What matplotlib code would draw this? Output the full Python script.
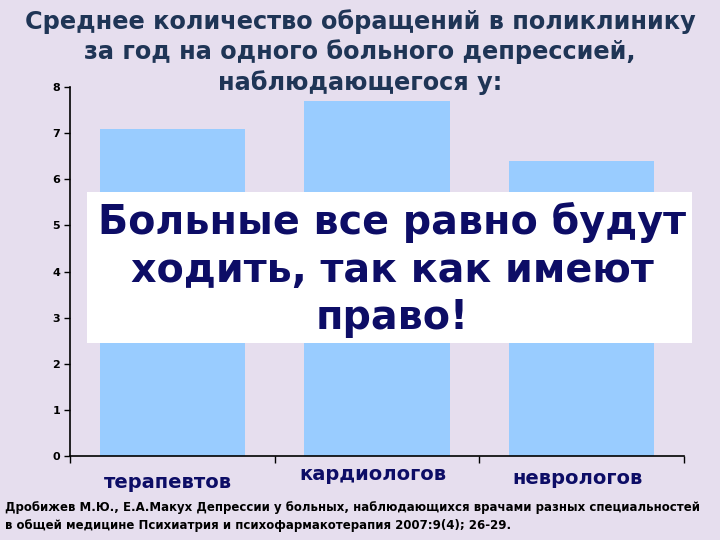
import matplotlib.pyplot as plt
import matplotlib.transforms as mtransforms
from matplotlib.patches import Rectangle

plt.rcParams['font.family'] = ['DejaVu Sans']

# данные
categories = ['терапевтов', 'кардиологов', 'неврологов']
values = [7.1, 7.7, 6.4]
label_offsets = [26, 18, 22]  # px below the axis, as in the slide

bg = '#e6deee'
bar_color = '#99ccff'
title_color = '#1f3556'
navy = '#0d0d66'

fig = plt.figure(figsize=(7.2, 5.4), dpi=100, facecolor=bg)
ax = fig.add_axes([70 / 720, 1 - 456 / 540, 614 / 720, 369 / 540])
ax.set_facecolor(bg)

x = range(len(categories))
ax.bar(x, values, width=0.71, color=bar_color, zorder=2)

ax.set_xlim(-0.5, 2.5)
ax.set_ylim(0, 8)
ax.set_yticks(range(0, 9))
ax.tick_params(axis='y', labelsize=8, length=4, width=1, pad=3)
for lab in ax.get_yticklabels():
    lab.set_fontweight('bold')
ax.set_xticks([-0.5, 0.5, 1.5, 2.5])
ax.set_xticklabels([])
ax.tick_params(axis='x', length=5, width=1, direction='out')
for side in ['top', 'right']:
    ax.spines[side].set_visible(False)
for side in ['left', 'bottom']:
    ax.spines[side].set_linewidth(1.2)

trans = mtransforms.blended_transform_factory(ax.transData, ax.transAxes)
for i, (cat, off) in enumerate(zip(categories, label_offsets)):
    t = mtransforms.offset_copy(trans, fig=fig, x=-4 * 72 / 100, y=-off * 72 / 100, units='points')
    ax.text(i, 0, cat, transform=t, ha='center', va='center',
            fontsize=14, fontweight='bold', color=navy)

# заголовок
title = ['Среднее количество обращений в поликлинику',
         'за год на одного больного депрессией,',
         'наблюдающегося у:']
for line, yy in zip(title, [22, 52, 83]):
    fig.text(0.5, 1 - yy / 540, line, ha='center', va='center',
             fontsize=17.3, fontweight='bold', color=title_color)

# белая вставка
fig.patches.append(Rectangle((87 / 720, 1 - 343 / 540), 605 / 720, 151 / 540,
                             transform=fig.transFigure, facecolor='white',
                             edgecolor='none', zorder=3))
box_lines = ['Больные все равно будут', 'ходить, так как имеют', 'право!']
for line, yy in zip(box_lines, [222, 271, 318]):
    fig.text(392 / 720, 1 - yy / 540, line, ha='center', va='center',
             fontsize=28.5, fontweight='bold', color=navy, zorder=4)

# источник
fig.text(5 / 720, 1 - 508 / 540,
         'Дробижев М.Ю., Е.А.Макух Депрессии у больных, наблюдающихся врачами разных специальностей',
         ha='left', va='center', fontsize=8.5, fontweight='bold', color='black')
fig.text(5 / 720, 1 - 526 / 540,
         'в общей медицине Психиатрия и психофармакотерапия 2007:9(4); 26-29.',
         ha='left', va='center', fontsize=8.5, fontweight='bold', color='black')

fig.savefig('out.png', dpi=100, facecolor=bg)
